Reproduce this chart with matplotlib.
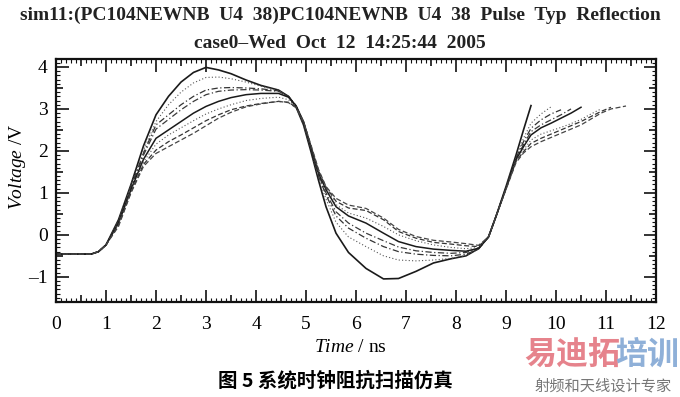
import matplotlib
matplotlib.use("Agg")
import matplotlib.pyplot as plt
import numpy as np

plt.rcParams["font.family"] = ["Liberation Serif", "DejaVu Serif"]
plt.rcParams["mathtext.fontset"] = "custom"
plt.rcParams["mathtext.rm"] = "Liberation Serif"
plt.rcParams["mathtext.it"] = "Liberation Serif:italic"

# time axis (ns) shared by the eight sweep curves; a curve stops where its list ends
time_ns = [0, 0.7, 0.85, 1.0, 1.25, 1.5, 1.75, 2.0, 2.25, 2.5, 2.75, 3.0, 3.25, 3.5,
           3.8, 4.1, 4.45, 4.65, 4.8, 4.95, 5.1, 5.25, 5.4, 5.6, 5.85, 6.2, 6.55, 6.85,
           7.2, 7.55, 7.9, 8.2, 8.45, 8.65, 8.8, 9.0, 9.2, 9.35, 9.5, 9.7, 9.9, 10.1,
           10.3, 10.5, 10.7, 10.9, 11.1, 11.4]

v0 = [-0.46, -0.46, -0.40, -0.24, 0.36, 1.20, 2.12, 2.86, 3.30, 3.64, 3.87, 3.99, 3.93,
      3.84, 3.69, 3.56, 3.45, 3.30, 3.05, 2.62, 1.98, 1.30, 0.67, 0.04, -0.42, -0.80,
      -1.05, -1.04, -0.87, -0.67, -0.57, -0.50, -0.33, -0.05, 0.44, 1.15, 1.90, 2.50, 3.08]
v1 = [-0.46, -0.46, -0.40, -0.24, 0.34, 1.17, 2.02, 2.70, 3.10, 3.40, 3.62, 3.75, 3.76,
      3.72, 3.64, 3.54, 3.44, 3.30, 3.06, 2.64, 2.02, 1.36, 0.85, 0.30, -0.05, -0.28,
      -0.50, -0.60, -0.62, -0.60, -0.56, -0.49, -0.34, -0.05, 0.44, 1.14, 1.85, 2.30,
      2.66, 2.88, 3.05]
v2 = [-0.46, -0.46, -0.40, -0.24, 0.32, 1.14, 1.95, 2.62, 2.86, 3.10, 3.30, 3.45, 3.50,
      3.51, 3.50, 3.48, 3.43, 3.30, 3.07, 2.66, 2.04, 1.40, 0.95, 0.45, 0.16, -0.08,
      -0.28, -0.40, -0.46, -0.49, -0.50, -0.46, -0.34, -0.05, 0.44, 1.13, 1.83, 2.22,
      2.54, 2.74, 2.88, 2.98]
v3 = [-0.46, -0.46, -0.40, -0.24, 0.30, 1.11, 1.90, 2.52, 2.75, 2.98, 3.18, 3.34, 3.42,
      3.45, 3.46, 3.45, 3.42, 3.30, 3.08, 2.68, 2.06, 1.43, 1.00, 0.55, 0.28, 0.04,
      -0.14, -0.29, -0.38, -0.42, -0.44, -0.42, -0.33, -0.05, 0.44, 1.12, 1.81, 2.15,
      2.46, 2.62, 2.74, 2.86, 3.00]
v4 = [-0.46, -0.46, -0.40, -0.24, 0.28, 1.08, 1.80, 2.30, 2.50, 2.70, 2.90, 3.06, 3.18,
      3.27, 3.34, 3.37, 3.37, 3.28, 3.08, 2.70, 2.08, 1.47, 1.08, 0.67, 0.45, 0.28,
      0.04, -0.16, -0.28, -0.34, -0.37, -0.39, -0.32, -0.05, 0.44, 1.11, 1.79, 2.10,
      2.38, 2.55, 2.66, 2.78, 2.90, 3.04]
v5 = [-0.46, -0.46, -0.40, -0.24, 0.26, 1.05, 1.74, 2.16, 2.38, 2.55, 2.72, 2.88, 3.00,
      3.10, 3.20, 3.25, 3.28, 3.22, 3.06, 2.70, 2.10, 1.50, 1.12, 0.72, 0.52, 0.40,
      0.20, 0.00, -0.14, -0.24, -0.30, -0.33, -0.30, -0.05, 0.44, 1.10, 1.77, 2.02,
      2.26, 2.40, 2.48, 2.56, 2.65, 2.75, 2.88, 3.00]
v6 = [-0.46, -0.46, -0.40, -0.24, 0.23, 1.02, 1.68, 2.02, 2.22, 2.38, 2.55, 2.72, 2.86,
      2.98, 3.07, 3.13, 3.18, 3.16, 3.04, 2.70, 2.12, 1.53, 1.14, 0.80, 0.64, 0.58,
      0.36, 0.08, -0.08, -0.18, -0.22, -0.26, -0.28, -0.05, 0.44, 1.09, 1.75, 1.98,
      2.18, 2.30, 2.40, 2.50, 2.60, 2.70, 2.82, 2.94, 3.04]
v7 = [-0.46, -0.46, -0.40, -0.24, 0.20, 1.00, 1.63, 1.94, 2.10, 2.26, 2.42, 2.60, 2.78,
      2.92, 3.05, 3.12, 3.18, 3.15, 3.03, 2.70, 2.14, 1.56, 1.15, 0.87, 0.71, 0.63,
      0.40, 0.13, -0.04, -0.13, -0.17, -0.21, -0.25, -0.05, 0.44, 1.08, 1.72, 1.95,
      2.10, 2.22, 2.32, 2.42, 2.52, 2.62, 2.76, 2.90, 3.00, 3.07]

curves = [v0, v1, v2, v3, v4, v5, v6, v7]
styles = ["-", (0, (1, 2)), (0, (5, 2, 1, 2)), (0, (5, 2, 1, 2)),
          "-", (0, (1, 2)), (0, (4, 2)), (0, (4, 2))]
widths = [1.2, 0.8, 0.9, 0.9, 1.1, 0.8, 0.9, 0.9]
colors = ["#1a1a1a", "#555555", "#333333", "#3a3a3a",
          "#1a1a1a", "#555555", "#333333", "#444444"]

fig = plt.figure(figsize=(6.8, 3.97), dpi=100)
ax = fig.add_axes([56 / 680, 1 - 302 / 397, 600 / 680, 243 / 397])

for v, ls, lw, c in zip(curves, styles, widths, colors):
    ax.plot(time_ns[:len(v)], v, linestyle=ls, linewidth=lw, color=c,
            solid_joinstyle="round")

ax.set_xlim(0, 12)
ax.set_ylim(-1.6, 4.19)

xt = np.arange(0, 12.01, 0.5)
ax.set_xticks(xt, [str(int(t)) if t == int(t) else "" for t in xt])
yt = np.arange(-1, 4.01, 0.5)
ax.set_yticks(yt, [str(int(t)).replace("-", "\u2013") if t == int(t) else "" for t in yt])
ax.set_xticks(np.arange(0, 12.01, 0.1), minor=True)
ax.set_yticks(np.arange(-1.6, 4.19, 0.1), minor=True)

ax.tick_params(which="both", direction="in", top=True, right=True, color="#111")
ax.tick_params(which="major", length=9, width=1.2, labelsize=14)
ax.tick_params(which="minor", length=3, width=0.8)
ax.tick_params(axis="x", which="major", pad=10)
ax.tick_params(axis="y", which="major", pad=6)

# half-unit ticks are shorter than the whole-unit ones
for axis, vals in ((ax.xaxis, xt), (ax.yaxis, yt)):
    for tick, val in zip(axis.get_major_ticks(), vals):
        if val != int(val):
            tick.tick1line.set_markersize(5)
            tick.tick2line.set_markersize(5)

for s in ax.spines.values():
    s.set_linewidth(1.6)
    s.set_color("#111")

fig.text(0.5, 1 - 15 / 397, "sim11:(PC104NEWNB  U4  38)PC104NEWNB  U4  38  Pulse  Typ  Reflection",
         ha="center", va="center", fontsize=14, fontweight="bold", color="#222")
fig.text(0.5, 1 - 43 / 397, "case0\u2013Wed  Oct  12  14:25:44  2005",
         ha="center", va="center", fontsize=14, fontweight="bold", color="#222")

fig.text(350 / 680, 1 - 347 / 397, r"$\mathit{Time}$ / ns", ha="center", va="center", fontsize=14)
fig.text(17 / 680, 1 - 167 / 397, r"$\mathit{Voltage}$ /V", ha="center", va="center",
         fontsize=14, rotation=90)

fig.text(335 / 680, 1 - 381 / 397, "图 5 系统时钟阻抗扫描仿真", ha="center", va="center",
         fontsize=14, fontweight="bold", family=["Noto Sans CJK SC", "DejaVu Sans"])

# watermark in the lower right corner
fig.text(572 / 680, 1 - 355 / 397, "易迪拓", ha="center", va="center", fontsize=23,
         fontweight="bold", color="#e6838c", family=["Noto Sans CJK SC"])
fig.text(647 / 680, 1 - 355 / 397, "培训", ha="center", va="center", fontsize=23,
         fontweight="bold", color="#8fb0d8", family=["Noto Sans CJK SC"])
fig.text(603 / 680, 1 - 386 / 397, "射频和天线设计专家", ha="center", va="center",
         fontsize=11, color="#777777", family=["Noto Sans CJK SC"])

fig.savefig("out.png", dpi=100)
